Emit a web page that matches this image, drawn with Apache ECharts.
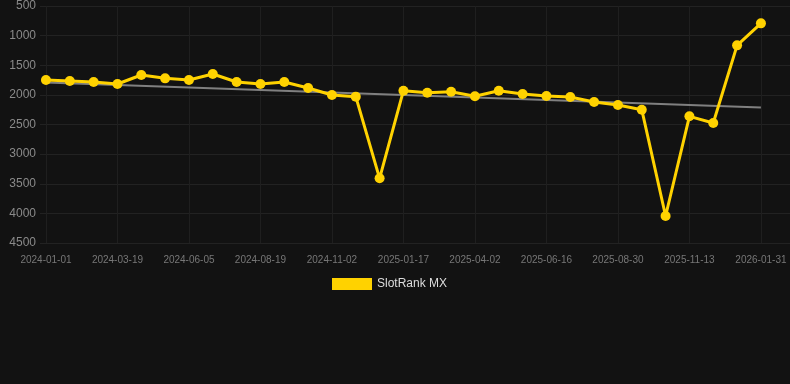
<!DOCTYPE html>
<html>
<head>
<meta charset="utf-8">
<script src="https://cdn.jsdelivr.net/npm/echarts@6/dist/echarts.min.js"></script>
<style>
  html, body { margin: 0; padding: 0; background: #121212; }
  #chart { width: 790px; height: 384px; }
</style>
</head>
<body>
<div id="chart"></div>
<script>
// dates of each point (only every 3rd is labelled)
const dates = [
    '2024-01-01', '2024-01-27', '2024-02-22', '2024-03-19', '2024-04-14', '2024-05-10',
    '2024-06-05', '2024-06-30', '2024-07-25', '2024-08-19', '2024-09-13', '2024-10-08',
    '2024-11-02', '2024-11-27', '2024-12-23', '2025-01-17', '2025-02-11', '2025-03-08',
    '2025-04-02', '2025-04-27', '2025-05-22', '2025-06-16', '2025-07-11', '2025-08-05',
    '2025-08-30', '2025-09-24', '2025-10-19', '2025-11-13', '2025-12-09', '2026-01-05',
    '2026-01-31'
];

const rankMX = [
    1750, 1766, 1783, 1816, 1665, 1721, 1749, 1648, 1783, 1816, 1783, 1884,
    2002, 2030, 3408, 1929, 1963, 1946, 2024, 1929, 1985, 2019, 2036, 2120,
    2171, 2250, 4044, 2362, 2475, 1164, 793
];

// linear trend, start and end
const trendValues = [1790, 2215];

const labelIndexes = [0, 3, 6, 9, 12, 15, 18, 21, 24, 27, 30];
const yTicks = [500, 4500, 500]; // min, max, step

const chart = echarts.init(document.getElementById('chart'));

const option = {
    backgroundColor: '#121212',
    animation: false,
    grid: {
        left: 40,
        right: 0,
        top: 6,
        bottom: 141
    },
    legend: {
        data: ['SlotRank MX'],
        left: 327,
        top: 273,
        icon: 'rect',
        itemWidth: 40,
        itemHeight: 12,
        itemGap: 10,
        textStyle: { color: '#dddddd', fontSize: 12, fontFamily: 'Arial, Liberation Sans, sans-serif' }
    },
    xAxis: {
        type: 'value',
        min: -0.25,
        max: 31.22,
        axisLine: { show: false },
        axisTick: { show: false, customValues: labelIndexes },
        axisLabel: {
            customValues: labelIndexes,
            color: '#777777',
            fontSize: 10,
            margin: 12,
            fontFamily: 'Arial, Liberation Sans, sans-serif',
            formatter: v => dates[Math.round(v)] || ''
        },
        splitLine: { show: true, lineStyle: { color: '#1f1f1f', width: 1 } }
    },
    yAxis: {
        type: 'value',
        inverse: true,
        min: yTicks[0],
        max: yTicks[1],
        interval: yTicks[2],
        axisLine: { show: false },
        axisTick: { show: false },
        axisLabel: {
            color: '#8a8a8a',
            fontSize: 12,
            margin: 4,
            fontFamily: 'Arial, Liberation Sans, sans-serif',
            formatter: v => String(v)
        },
        splitLine: { lineStyle: { color: '#222222', width: 1 } }
    },
    series: [
        {
            name: 'Trend',
            type: 'line',
            data: [[0, trendValues[0]], [dates.length - 1, trendValues[1]]],
            showSymbol: false,
            silent: true,
            lineStyle: { color: '#808080', width: 2 },
            z: 1
        },
        {
            name: 'SlotRank MX',
            type: 'line',
            data: rankMX.map((v, i) => [i, v]),
            symbol: 'circle',
            symbolSize: 10,
            itemStyle: { color: '#FFD200' },
            lineStyle: { color: '#FFD200', width: 3 },
            z: 2
        }
    ]
};

chart.setOption(option);
</script>
</body>
</html>
